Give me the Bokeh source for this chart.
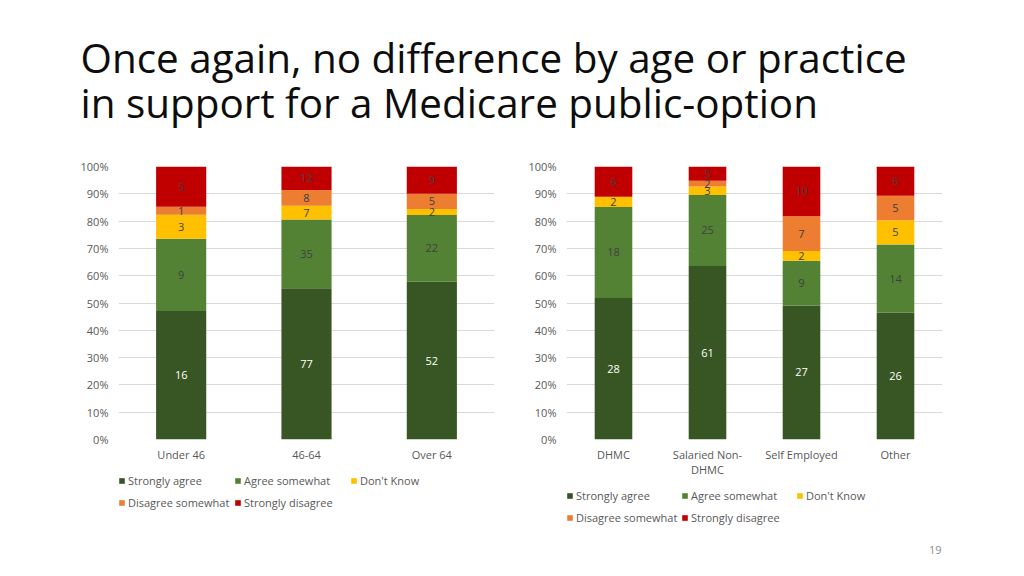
from bokeh.plotting import figure
from bokeh.models import (ColumnDataSource, Range1d, FixedTicker, NumeralTickFormatter, Label, Legend,
                          FactorRange)
from bokeh.layouts import column, row
from bokeh.embed import file_html
from bokeh.resources import INLINE
from bokeh.core.properties import value

FONT = "Open Sans"

title_lines = ["Once again, no difference by age or practice",
               "in support for a Medicare public-option"]
page_number = "19"

responses = ["Strongly agree", "Agree somewhat", "Don't Know", "Disagree somewhat", "Strongly disagree"]
colors = ["#375623", "#548235", "#FFC000", "#ED7D31", "#C00000"]

age_groups = ["Under 46", "46-64", "Over 64"]
age_strongly_agree = [16, 77, 52]
age_agree_somewhat = [9, 35, 22]
age_dont_know = [3, 7, 2]
age_disagree_somewhat = [1, 8, 5]
age_strongly_disagree = [5, 12, 9]

practice_groups = ["DHMC", "Salaried Non-\nDHMC", "Self Employed", "Other"]
practice_strongly_agree = [28, 61, 27, 26]
practice_agree_somewhat = [18, 25, 9, 14]
practice_dont_know = [2, 3, 2, 5]
practice_disagree_somewhat = [0, 2, 7, 5]
practice_strongly_disagree = [6, 5, 10, 6]

y_ticks = [i / 10 for i in range(11)]


def style_axis(ax, standoff):
    ax.axis_line_color = None
    ax.major_tick_line_color = None
    ax.minor_tick_line_color = None
    ax.major_tick_out = 0
    ax.major_tick_in = 0
    ax.major_label_text_font = FONT
    ax.major_label_text_font_size = "11px"
    ax.major_label_text_color = "#595959"
    ax.major_label_standoff = standoff


def make_chart(groups, series, width, height, bl, br, bb):
    keys = ["sa", "as", "dk", "ds", "sd"]
    totals = [sum(v[i] for v in series) for i in range(len(groups))]
    data = {"cat": groups}
    for k, v in zip(keys, series):
        data[k] = [a / t for a, t in zip(v, totals)]
    src = ColumnDataSource(data)
    p = figure(x_range=FactorRange(*groups), y_range=Range1d(0, 1), width=width, height=height,
               output_backend="svg", toolbar_location=None,
               min_border_left=bl, min_border_right=br, min_border_top=8, min_border_bottom=bb,
               outline_line_color=None, background_fill_color="white", border_fill_color="white")
    p.vbar_stack(keys, x="cat", width=0.4, color=colors, source=src, line_color=None)

    lx, ly, lt, lc = [], [], [], []
    for i, g in enumerate(groups):
        base = 0.0
        for j, v in enumerate(series):
            share = v[i] / totals[i]
            if v[i] > 0:
                lx.append(g)
                ly.append(base + share / 2)
                lt.append(str(v[i]))
                lc.append("#ffffff" if j == 0 else "#404040")
            base += share
    p.text(x=lx, y=ly, text=lt, text_color=lc, text_align="center", text_baseline="middle",
           text_font=value(FONT), text_font_size="11px")

    p.xgrid.grid_line_color = None
    p.ygrid.grid_line_color = "#d9d9d9"
    p.yaxis.ticker = FixedTicker(ticks=y_ticks)
    p.yaxis.formatter = NumeralTickFormatter(format="0%")
    style_axis(p.yaxis[0], 10)
    style_axis(p.xaxis[0], 7)
    p.xaxis[0].major_label_text_line_height = 1.05
    return p


def make_legend_fig(width, height, loc, lw):
    # frame of this figure is aligned (in the column) with the chart frame above it
    f = figure(width=width, height=height, x_range=Range1d(0, 376), y_range=Range1d(height, 0),
               output_backend="svg", toolbar_location=None, min_border=0, outline_line_color=None,
               x_axis_type=None, y_axis_type=None, title=None)
    f.grid.visible = False
    nan = float("nan")
    # empty (NaN) placeholder renderers that only feed the legend swatches
    rs = [f.vbar(x=[nan], top=[nan], bottom=[nan], width=1, fill_color=c, line_color=None) for c in colors]
    legend = Legend(items=[(name, [r]) for name, r in zip(responses, rs)],
                    location=loc, orientation="horizontal", ncols=3,
                    glyph_width=7, glyph_height=7, label_standoff=3,
                    label_text_font=FONT, label_text_font_size="11px", label_text_color="#595959",
                    spacing=2, padding=0, margin=0, label_height=20, label_width=lw,
                    background_fill_alpha=0, border_line_color=None)
    f.add_layout(legend, "center")
    return f


pt = figure(width=1016, height=158, x_range=Range1d(0, 1016), y_range=Range1d(158, 0),
            output_backend="svg", toolbar_location=None, min_border=0, outline_line_color=None,
            x_axis_type=None, y_axis_type=None, title=None)
pt.grid.visible = False
pt.add_layout(Label(x=80, y=57, text=title_lines[0], text_font=FONT, text_font_size="40.4px",
                    text_color="#0d0d0d", text_baseline="alphabetic"))
pt.add_layout(Label(x=80, y=102, text=title_lines[1], text_font=FONT, text_font_size="40.4px",
                    text_color="#0d0d0d", text_baseline="alphabetic"))

p1 = make_chart(age_groups,
                [age_strongly_agree, age_agree_somewhat, age_dont_know, age_disagree_somewhat, age_strongly_disagree],
                508, 312, 118, 14, 31)
p2 = make_chart(practice_groups,
                [practice_strongly_agree, practice_agree_somewhat, practice_dont_know,
                 practice_disagree_somewhat, practice_strongly_disagree],
                508, 328, 58, 74, 47)

leg1 = make_legend_fig(508, 98, (0, 56), 104)
leg2 = make_legend_fig(508, 82, (0, 41), 103)
leg2.add_layout(Label(x=375, y=63, text=page_number, text_font=FONT, text_font_size="11px",
                      text_color="#8c8c8c", text_align="right", text_baseline="middle"))

layout = column(pt, row(column(p1, leg1), column(p2, leg2)))
open("out.html", "w").write(file_html(layout, INLINE))
